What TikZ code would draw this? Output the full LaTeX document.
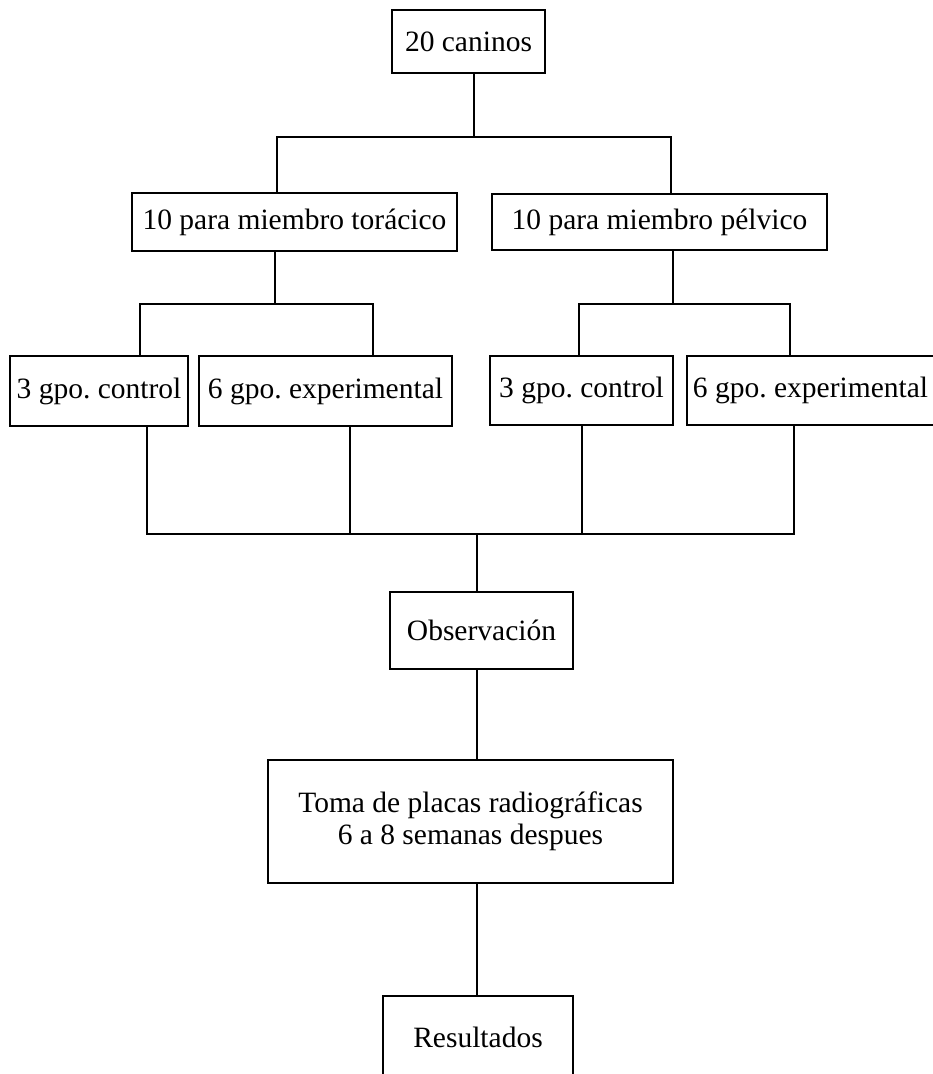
\documentclass[tikz,border=0pt]{standalone}
\usepackage{fontspec}
\setmainfont{Liberation Serif}
\usetikzlibrary{positioning}
\frenchspacing

\begin{document}
\begin{tikzpicture}[x=1pt, y=-1pt,
      lin/.style={line width=1.8pt},
      caja/.style={draw, line width=1.8pt, inner sep=0pt, align=center,
                   font=\fontsize{29.5}{32}\selectfont}
    ]
    \useasboundingbox (0,0) rectangle (933,1074);
    \node[caja, minimum width=153pt, minimum height=63pt] (can) at (468.5,41.5) {20 caninos};
    \node[caja, minimum width=325pt, minimum height=58pt] (tor) at (294.5,222) {10 para miembro torácico};
    \node[caja, minimum width=335pt, minimum height=56pt] (pel) at (659.5,222) {10 para miembro pélvico};
    \node[caja, minimum width=178pt, minimum height=70pt] (c1) at (99,391) {3 gpo. control};
    \node[caja, minimum width=253pt, minimum height=70pt] (e1) at (325.5,391) {6 gpo. experimental};
    \node[caja, minimum width=183pt, minimum height=69pt] (c2) at (581.5,390.5) {3 gpo. control};
    \node[caja, minimum width=247pt, minimum height=69pt] (e2) at (810.5,390.5) {6 gpo. experimental};
    \node[caja, minimum width=183pt, minimum height=77pt] (obs) at (481.5,630.5) {Observación};
    \node[caja, minimum width=405pt, minimum height=123pt] (toma) at (470.5,821.5)
      {Toma de placas radiográficas\\6 a 8 semanas despues};
    \node[caja, minimum width=190pt, minimum height=82pt] (res) at (478,1037) {Resultados};
    \coordinate (t1) at (474,137);
    \coordinate (a1) at (277,137);
    \coordinate (a2) at (671,137);
    \coordinate (b0) at (275,304);
    \coordinate (b1) at (140,304);
    \coordinate (b2) at (373,304);
    \coordinate (g0) at (673,304);
    \coordinate (g1) at (579,304);
    \coordinate (g2) at (790,304);
    \coordinate (d0) at (477,534);
    \coordinate (d1) at (147,534);
    \coordinate (d2) at (350,534);
    \coordinate (d3) at (582,534);
    \coordinate (d4) at (794,534);
    \draw[lin] (t1 |- can.south) -- (t1);
    \draw[lin] (a1 |- tor.north) -- (a1) -- (a2) -- (a2 |- pel.north);
    \draw[lin] (b0 |- tor.south) -- (b0);
    \draw[lin] (b1 |- c1.north) -- (b1) -- (b2) -- (b2 |- e1.north);
    \draw[lin] (g0 |- pel.south) -- (g0);
    \draw[lin] (g1 |- c2.north) -- (g1) -- (g2) -- (g2 |- e2.north);
    \draw[lin] (d1 |- c1.south) -- (d1) -- (d4) -- (d4 |- e2.south);
    \draw[lin] (d2 |- e1.south) -- (d2);
    \draw[lin] (d3 |- c2.south) -- (d3);
    \draw[lin] (d0) -- (d0 |- obs.north);
    \draw[lin] (d0 |- obs.south) -- (d0 |- toma.north);
    \draw[lin] (d0 |- toma.south) -- (d0 |- res.north);
  \end{tikzpicture}
\end{document}
